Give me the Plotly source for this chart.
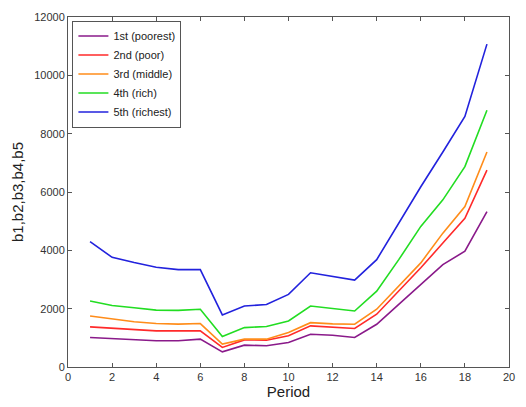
import plotly.graph_objects as go

periods = list(range(1, 20))
names = ["1st (poorest)", "2nd (poor)", "3rd (middle)", "4th (rich)", "5th (richest)"]
b1 = [1010, 970, 920, 900, 900, 955, 520, 750, 730, 840, 1125, 1090, 1010, 1465, 2150, 2830, 3510, 3970, 5330]
b2 = [1375, 1330, 1280, 1240, 1240, 1240, 670, 930, 920, 1070, 1410, 1360, 1320, 1810, 2600, 3400, 4250, 5100, 6750]
b3 = [1750, 1640, 1550, 1490, 1470, 1490, 785, 955, 955, 1180, 1520, 1480, 1465, 1980, 2770, 3570, 4590, 5500, 7370]
b4 = [2260, 2110, 2030, 1950, 1940, 1980, 1045, 1350, 1390, 1580, 2090, 2010, 1920, 2600, 3680, 4820, 5730, 6870, 8800]
b5 = [4300, 3760, 3580, 3420, 3340, 3340, 1785, 2090, 2140, 2490, 3230, 3110, 2980, 3680, 4940, 6180, 7370, 8590, 11070]
series = [b1, b2, b3, b4, b5]
colors = ["#8a1a8a", "#ff2a2a", "#ff8c1a", "#22dd22", "#2222dd"]

fig = go.Figure()
for name, ys, c in zip(names, series, colors):
    fig.add_trace(go.Scatter(x=periods, y=ys, mode="lines", name=name,
                             line=dict(color=c, width=1.6)))

axis_common = dict(showline=True, linecolor="#555555", linewidth=1, mirror="ticks",
                   ticks="inside", ticklen=4, tickcolor="#555555", showgrid=False,
                   zeroline=False, tickfont=dict(family="Liberation Sans, Arial", size=11, color="#333333"))
fig.update_xaxes(range=[0, 20], dtick=2, title=dict(text="Period", standoff=2,
                 font=dict(family="Liberation Sans, Arial", size=15, color="#222222")), **axis_common)
fig.update_yaxes(range=[0, 12000], dtick=2000, tickformat="d", title=dict(text="b1,b2,b3,b4,b5", standoff=6,
                 font=dict(family="Liberation Sans, Arial", size=15, color="#222222")), **axis_common)

fig.update_layout(
    width=526, height=407,
    margin=dict(l=68, r=11, t=17, b=39),
    plot_bgcolor="white", paper_bgcolor="white",
    legend=dict(x=0.01, y=0.99, xanchor="left", yanchor="top",
                bgcolor="white", bordercolor="#555555", borderwidth=1,
                font=dict(family="Liberation Sans, Arial", size=11, color="#222222"),
                tracegroupgap=0, itemwidth=30),
)
fig.write_html("out.html")
